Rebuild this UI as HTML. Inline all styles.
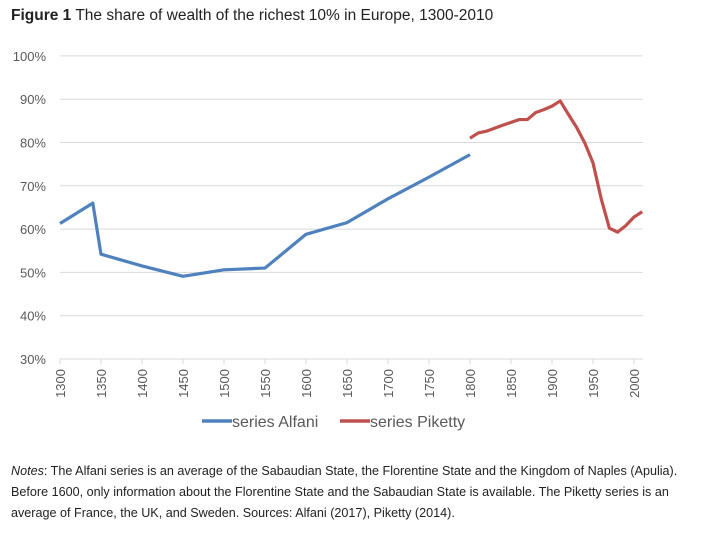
<!DOCTYPE html>
<html><head><meta charset="utf-8"><style>
body{margin:0;background:#fff;width:710px;height:535px;overflow:hidden;font-family:"Liberation Sans",Arial,sans-serif}
#title{position:absolute;left:11px;top:7px;font-size:15.5px;color:#222}
#notes{position:absolute;left:11px;top:461px;width:697px;font-size:12.6px;line-height:21px;color:#222}
svg{position:absolute;left:0;top:0}
</style></head><body>
<div id="title"><b>Figure 1</b> The share of wealth of the richest 10% in Europe, 1300-2010</div>
<svg id="chart" width="710" height="535"></svg>
<div id="notes"><i>Notes</i>: The Alfani series is an average of the Sabaudian State, the Florentine State and the Kingdom of Naples (Apulia). Before 1600, only information about the Florentine State and the Sabaudian State is available. The Piketty series is an average of France, the UK, and Sweden. Sources: Alfani (2017), Piketty (2014).</div>
<script>
const yTicks=[30,40,50,60,70,80,90,100];
const xTicks=[1300,1350,1400,1450,1500,1550,1600,1650,1700,1750,1800,1850,1900,1950,2000];
const alfaniYears=[1300,1340,1350,1400,1450,1500,1550,1600,1650,1700,1750,1800];
const alfaniVals=[61.3,66,54.2,51.5,49.1,50.6,51,58.8,61.5,67,72,77.2];
const pikettyYears=[1800,1810,1820,1840,1860,1870,1880,1890,1900,1910,1920,1930,1940,1950,1960,1970,1980,1990,2000,2010];
const pikettyVals=[81,82.2,82.6,84,85.3,85.3,86.9,87.6,88.4,89.6,86.5,83.5,79.9,75.3,67,60.2,59.3,60.8,62.8,64];
const NS='http://www.w3.org/2000/svg';
const svg=document.getElementById('chart');
const x=y=>60+(y-1300)*0.82;
const yy=v=>359-(v-30)*4.33;
function mk(t,a){const e=document.createElementNS(NS,t);for(const k in a)e.setAttribute(k,a[k]);svg.appendChild(e);return e;}
yTicks.forEach(v=>{
 const g=mk('line',{x1:60,x2:643,y1:yy(v),y2:yy(v),stroke:'#d9d9d9','stroke-width':1});
 
 
 const t=mk('text',{x:46,y:yy(v)+5,'text-anchor':'end','font-size':13,fill:'#595959'});
 t.textContent=v+'%';
 
 
});
xTicks.forEach(v=>{
 const tk=mk('line',{x1:x(v),x2:x(v),y1:359,y2:364,stroke:'#d9d9d9'});
 
 
 const t=mk('text',{transform:`translate(${x(v)+5},369) rotate(-90)`,'text-anchor':'end','font-size':13,fill:'#595959'});
 t.textContent=v;
 
 
});
function series(ys,vs,c,n){
 const p=mk('polyline',{points:ys.map((y,i)=>x(y)+','+yy(vs[i])).join(' '),fill:'none',stroke:c,'stroke-width':3.2,'stroke-linejoin':'round'});
 
 
}
series(alfaniYears,alfaniVals,'#4f81bd','series-alfani-line');
series(pikettyYears,pikettyVals,'#c0504d','series-piketty-line');
[[202,'#4f81bd','series Alfani','legend-alfani'],[340,'#c0504d','series Piketty','legend-piketty']].forEach(([lx,c,txt,n])=>{
 const l=mk('line',{x1:lx,x2:lx+30,y1:421,y2:421,stroke:c,'stroke-width':3.5});
 
 
 const t=mk('text',{x:lx+30,y:427,'font-size':16,fill:'#595959'});
 t.textContent=txt;
 
 
});
</script>
</body></html>
